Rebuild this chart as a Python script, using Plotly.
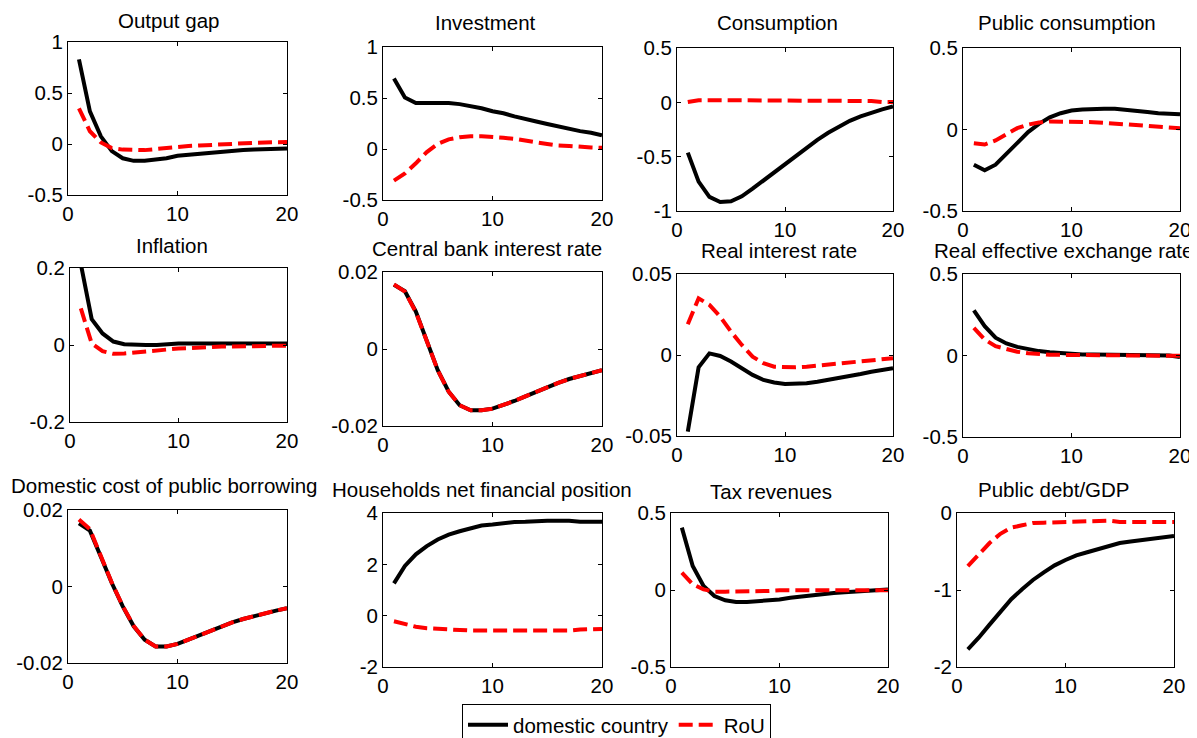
import plotly.graph_objects as go

# page body adds an 8px margin, so the figure is drawn 8px smaller and coordinates are shifted
OFF = 8
W, H = 1197 - OFF, 738 - OFF
periods = list(range(1, 21))

titles = ["Output gap", "Investment", "Consumption", "Public consumption",
          "Inflation", "Central bank interest rate", "Real interest rate", "Real effective exchange rate",
          "Domestic cost of public borrowing", "Households net financial position", "Tax revenues", "Public debt/GDP"]

output_gap_dom = [0.83, 0.32, 0.075, -0.07, -0.14, -0.165, -0.165, -0.155, -0.14, -0.115, -0.105, -0.095, -0.088, -0.08, -0.07, -0.06, -0.055, -0.05, -0.047, -0.045]
output_gap_rou = [0.35, 0.125, 0.015, -0.04, -0.055, -0.06, -0.06, -0.05, -0.037, -0.025, -0.02, -0.015, -0.008, 0.0, 0.005, 0.01, 0.012, 0.015, 0.018, 0.02]

investment_dom = [0.69, 0.505, 0.45, 0.45, 0.45, 0.45, 0.44, 0.42, 0.40, 0.37, 0.35, 0.32, 0.29, 0.27, 0.245, 0.22, 0.20, 0.175, 0.16, 0.135]
investment_rou = [-0.31, -0.24, -0.14, -0.03, 0.05, 0.095, 0.115, 0.125, 0.125, 0.12, 0.11, 0.10, 0.08, 0.065, 0.05, 0.035, 0.03, 0.02, 0.015, 0.012]

consumption_dom = [-0.463, -0.73, -0.87, -0.917, -0.91, -0.865, -0.795, -0.72, -0.64, -0.565, -0.49, -0.41, -0.345, -0.28, -0.227, -0.17, -0.13, -0.095, -0.065, -0.037]
consumption_rou = [0.003, 0.02, 0.02, 0.02, 0.02, 0.02, 0.02, 0.02, 0.02, 0.02, 0.02, 0.02, 0.02, 0.02, 0.02, 0.02, 0.02, 0.012, 0.003, 0.003]

pubcons_dom = [-0.216, -0.25, -0.216, -0.15, -0.078, -0.016, 0.035, 0.075, 0.10, 0.116, 0.122, 0.127, 0.127, 0.127, 0.122, 0.116, 0.108, 0.10, 0.096, 0.094]
pubcons_rou = [-0.084, -0.092, -0.067, -0.027, 0.008, 0.03, 0.043, 0.049, 0.049, 0.049, 0.049, 0.045, 0.041, 0.037, 0.033, 0.027, 0.022, 0.016, 0.012, 0.008]

inflation_dom = [0.21, 0.067, 0.03, 0.009, 0.002, 0.0, 0.0, 0.0, 0.003, 0.004, 0.004, 0.004, 0.004, 0.006, 0.006, 0.004, 0.004, 0.004, 0.004, 0.004]
inflation_rou = [0.095, 0.004, -0.016, -0.023, -0.022, -0.019, -0.016, -0.014, -0.01, -0.009, -0.008, -0.006, -0.005, -0.004, -0.004, -0.003, -0.003, -0.002, -0.002, -0.002]

cbrate_dom = [0.0167, 0.015, 0.0097, 0.0023, -0.0055, -0.0111, -0.0146, -0.0159, -0.0159, -0.0155, -0.0146, -0.0135, -0.0123, -0.0111, -0.0098, -0.0088, -0.0078, -0.007, -0.0062, -0.0055]
cbrate_rou = [0.0168, 0.0149, 0.0096, 0.0022, -0.0055, -0.0111, -0.0146, -0.0159, -0.0159, -0.0155, -0.0146, -0.0135, -0.0123, -0.0111, -0.0098, -0.0088, -0.0078, -0.007, -0.0062, -0.0055]

realrate_dom = [-0.0473, -0.0076, 0.001, -0.0006, -0.004, -0.0082, -0.0123, -0.0154, -0.017, -0.0179, -0.0179, -0.0175, -0.0165, -0.0154, -0.014, -0.0128, -0.0117, -0.0103, -0.0093, -0.0082]
realrate_rou = [0.019, 0.035, 0.031, 0.0237, 0.0144, 0.0062, -0.001, -0.0051, -0.0072, -0.0076, -0.0076, -0.0072, -0.0066, -0.006, -0.0051, -0.0047, -0.004, -0.0035, -0.0027, -0.002]

reer_dom = [0.277, 0.18, 0.109, 0.074, 0.053, 0.037, 0.027, 0.02, 0.014, 0.01, 0.006, 0.006, 0.006, 0.006, 0.002, 0.0, 0.0, 0.0, 0.0, -0.01]
reer_rou = [0.17, 0.098, 0.057, 0.037, 0.023, 0.014, 0.008, 0.004, 0.004, 0.003, 0.003, 0.002, 0.002, 0.002, 0.002, 0.001, 0.001, 0.0, 0.0, -0.002]

borrowcost_dom = [0.0165, 0.0146, 0.0078, 0.0009, -0.0052, -0.0104, -0.0139, -0.0157, -0.0157, -0.015, -0.0139, -0.0128, -0.0117, -0.0104, -0.0094, -0.0085, -0.0077, -0.007, -0.0063, -0.0057]
borrowcost_rou = [0.0175, 0.015, 0.008, 0.001, -0.0051, -0.0103, -0.0139, -0.0157, -0.0157, -0.015, -0.0139, -0.0128, -0.0117, -0.0104, -0.0094, -0.0085, -0.0077, -0.007, -0.0063, -0.0057]

households_dom = [1.26, 1.94, 2.39, 2.71, 2.97, 3.16, 3.29, 3.42, 3.51, 3.55, 3.61, 3.65, 3.66, 3.69, 3.7, 3.7, 3.7, 3.66, 3.66, 3.66]
households_rou = [-0.22, -0.32, -0.43, -0.49, -0.52, -0.55, -0.58, -0.58, -0.58, -0.58, -0.61, -0.58, -0.58, -0.58, -0.58, -0.58, -0.58, -0.54, -0.52, -0.52]

tax_dom = [0.405, 0.156, 0.026, -0.039, -0.067, -0.078, -0.078, -0.074, -0.067, -0.061, -0.05, -0.041, -0.032, -0.026, -0.019, -0.015, -0.011, -0.006, -0.002, 0.004]
tax_rou = [0.113, 0.037, 0.004, -0.011, -0.011, -0.011, -0.011, -0.011, -0.006, -0.002, -0.002, -0.002, -0.002, -0.002, -0.002, -0.002, -0.002, -0.002, -0.002, -0.002]

debt_dom = [-1.77, -1.62, -1.45, -1.28, -1.12, -0.99, -0.87, -0.77, -0.68, -0.61, -0.55, -0.51, -0.47, -0.42, -0.39, -0.37, -0.35, -0.33, -0.32, -0.30]
debt_rou = [-0.69, -0.54, -0.39, -0.27, -0.19, -0.16, -0.13, -0.125, -0.12, -0.12, -0.11, -0.1, -0.1, -0.1, -0.117, -0.117, -0.117, -0.117, -0.117, -0.117]

dom_series = [output_gap_dom, investment_dom, consumption_dom, pubcons_dom, inflation_dom, cbrate_dom,
              realrate_dom, reer_dom, borrowcost_dom, households_dom, tax_dom, debt_dom]
rou_series = [output_gap_rou, investment_rou, consumption_rou, pubcons_rou, inflation_rou, cbrate_rou,
              realrate_rou, reer_rou, borrowcost_rou, households_rou, tax_rou, debt_rou]

x_ticks = [0, 10, 20]
x_ticklabels = ["0", "10", "20"]
y_ticks = [
    [-0.5, 0, 0.5, 1], [-0.5, 0, 0.5, 1], [-1, -0.5, 0, 0.5], [-0.5, 0, 0.5],
    [-0.2, 0, 0.2], [-0.02, 0, 0.02], [-0.05, 0, 0.05], [-0.5, 0, 0.5],
    [-0.02, 0, 0.02], [-2, 0, 2, 4], [-0.5, 0, 0.5], [-2, -1, 0],
]
y_ticklabels = [
    ["-0.5", "0", "0.5", "1"], ["-0.5", "0", "0.5", "1"], ["-1", "-0.5", "0", "0.5"], ["-0.5", "0", "0.5"],
    ["-0.2", "0", "0.2"], ["-0.02", "0", "0.02"], ["-0.05", "0", "0.05"], ["-0.5", "0", "0.5"],
    ["-0.02", "0", "0.02"], ["-2", "0", "2", "4"], ["-0.5", "0", "0.5"], ["-2", "-1", "0"],
]

# axes boxes in screen pixels: left, right, top, bottom
boxes = [
    (68, 287, 42, 195), (383, 602, 47, 200), (677, 893, 48, 211), (963, 1180, 48, 211),
    (70, 287, 268, 422), (383, 602, 272, 426), (677, 893, 274, 436), (963, 1180, 274, 437),
    (68, 287, 510, 663), (383, 602, 513, 667), (671, 888, 513, 667), (957, 1174, 513, 667),
]
# title centre positions in screen pixels
title_pos = [
    (169, 20), (485, 23), (777, 23), (1067, 23),
    (172, 245), (487, 248), (779, 250), (1063, 250),
    (164, 485), (482, 490), (771, 491), (1054, 490),
]


def px(xp):
    return (xp - OFF) / W


def py(yp):
    return 1 - (yp - OFF) / H


FONT = "Liberation Sans, Arial, Helvetica, sans-serif"
FS = 20.5

fig = go.Figure()
layout = dict(
    width=W, height=H, autosize=False,
    margin=dict(l=0, r=0, t=0, b=0, autoexpand=False),
    paper_bgcolor="white", plot_bgcolor="white",
    font=dict(family=FONT, size=FS, color="black"),
    annotations=[],
)

for i in range(12):
    n = "" if i == 0 else str(i + 1)
    l, r, t, b = boxes[i]
    axis_common = dict(showgrid=False, zeroline=False, showline=True, linecolor="black", linewidth=1,
                       mirror="ticks", ticks="inside", ticklen=4, tickcolor="black", tickwidth=1,
                       automargin=False, tickfont=dict(family=FONT, size=FS, color="black"))
    layout["xaxis" + n] = dict(domain=[px(l), px(r)], anchor="y" + n, range=[0, 20],
                               tickmode="array", tickvals=x_ticks, ticktext=x_ticklabels, **axis_common)
    yt = y_ticks[i]
    layout["yaxis" + n] = dict(domain=[py(b), py(t)], anchor="x" + n, range=[yt[0], yt[-1]],
                               tickmode="array", tickvals=yt, ticktext=y_ticklabels[i], **axis_common)
    fig.add_trace(go.Scatter(x=periods, y=dom_series[i], mode="lines", name="domestic country",
                             line=dict(color="black", width=4), xaxis="x" + n, yaxis="y" + n,
                             showlegend=(i == 0), legendrank=1))
    fig.add_trace(go.Scatter(x=periods, y=rou_series[i], mode="lines", name="RoU",
                             line=dict(color="#ff0000", width=4, dash="14px,6px"), xaxis="x" + n, yaxis="y" + n,
                             showlegend=(i == 0), legendrank=2))
    tx, ty = title_pos[i]
    layout["annotations"].append(dict(text=titles[i], x=px(tx), y=py(ty), xref="paper", yref="paper",
                                      xanchor="center", yanchor="middle", showarrow=False,
                                      font=dict(family=FONT, size=FS, color="black")))

layout["legend"] = dict(orientation="h", x=px(462), y=py(704), xanchor="left", yanchor="top",
                        bordercolor="black", borderwidth=1, bgcolor="white",
                        font=dict(family=FONT, size=FS, color="black"), itemwidth=40,
                        traceorder="normal")
fig.update_layout(**layout)
fig.write_html("out.html")
